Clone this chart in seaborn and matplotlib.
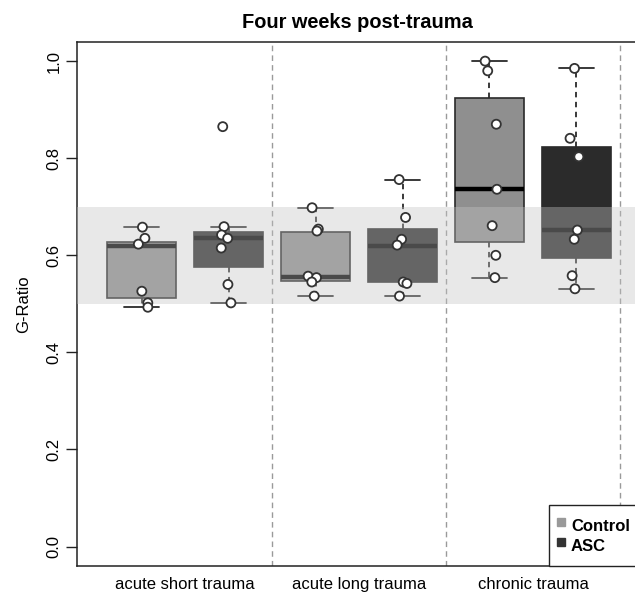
import numpy as np
import pandas as pd
import matplotlib
matplotlib.use("Agg")
import matplotlib.pyplot as plt
from matplotlib.lines import Line2D
import seaborn as sns

# ---------------- data ----------------
categories = ["acute short trauma", "acute long trauma", "chronic trauma"]
groups = ["Control", "ASC"]

# box summaries: lower whisker, Q1, median, Q3, upper whisker
control_box = [
    [0.493, 0.513, 0.620, 0.628, 0.658],
    [0.516, 0.547, 0.556, 0.649, 0.698],
    [0.554, 0.628, 0.736, 0.923, 1.001],
]
asc_box = [
    [0.502, 0.575, 0.635, 0.649, 0.658],
    [0.516, 0.544, 0.620, 0.654, 0.756],
    [0.531, 0.594, 0.652, 0.823, 0.985],
]

# individual animals (points)
control_pts = [
    [0.658, 0.635, 0.623, 0.526, 0.502, 0.493],
    [0.698, 0.654, 0.650, 0.557, 0.554, 0.545, 0.516],
    [1.000, 0.980, 0.870, 0.736, 0.661, 0.600, 0.554],
]
asc_pts = [
    [0.865, 0.659, 0.642, 0.635, 0.615, 0.540, 0.502],
    [0.756, 0.678, 0.633, 0.621, 0.545, 0.542, 0.516],
    [0.985, 0.841, 0.803, 0.652, 0.633, 0.558, 0.531],
]

yticks = [0.0, 0.2, 0.4, 0.6, 0.8, 1.0]
ytick_labels = ["0.0", "0.2", "0.4", "0.6", "0.8", "1.0"]
band_range = (0.5, 0.7)

# ---------------- frames ----------------
def long_frame(ctrl, asc):
    rows = []
    for ci, cat in enumerate(categories):
        for v in ctrl[ci]:
            rows.append((cat, "Control", v))
        for v in asc[ci]:
            rows.append((cat, "ASC", v))
    return pd.DataFrame(rows, columns=["trauma", "group", "g_ratio"])

box_df = long_frame(control_box, asc_box)
pts_df = long_frame(control_pts, asc_pts)

# ---------------- style ----------------
sns.set_theme(style="white")
plt.rcParams["font.family"] = ["Liberation Sans", "DejaVu Sans"]
plt.rcParams["text.color"] = "black"
plt.rcParams["axes.labelcolor"] = "black"
plt.rcParams["xtick.color"] = "black"
plt.rcParams["ytick.color"] = "black"

fig = plt.figure(figsize=(6.35, 5.97), dpi=100)
ax = fig.add_axes([77.3 / 635, 31 / 597, 560 / 635, 524.3 / 597])

box_colors = {"Control": "#8f8f8f", "ASC": "#2b2b2b"}
legend_colors = {"Control": "#999999", "ASC": "#333333"}

sns.boxplot(
    data=box_df, x="trauma", y="g_ratio", hue="group",
    order=categories, hue_order=groups, palette=box_colors,
    saturation=1, width=1.0, gap=0.2, whis=(0, 100), showfliers=False,
    linecolor="#2a2a2a", linewidth=1.2,
    medianprops=dict(color="black", linewidth=3.2),
    whiskerprops=dict(linestyle=(0, (3, 2.5)), linewidth=1.3),
    capprops=dict(linestyle="-", linewidth=1.3),
    legend=False, ax=ax,
)
n_before = len(ax.collections)

np.random.seed(3)
sns.stripplot(
    data=pts_df, x="trauma", y="g_ratio", hue="group",
    order=categories, hue_order=groups,
    palette={"Control": "white", "ASC": "white"},
    dodge=True, jitter=0.09, size=6.5, linewidth=1.3, edgecolor="#333333",
    legend=False, ax=ax, zorder=5,
)
# align dodged points with the (wider-spaced) boxes
for coll in ax.collections[n_before:]:
    off = coll.get_offsets()
    if len(off):
        frac = off[:, 0] - np.round(off[:, 0])
        off[:, 0] = off[:, 0] + np.where(frac < 0, -0.05, 0.05)
        coll.set_offsets(off)
        coll.set_zorder(5)

# grey reference band drawn over the boxes
ax.axhspan(band_range[0], band_range[1], color="#c4c4c4", alpha=0.38, lw=0, zorder=4)

# dashed separators between trauma types
for xv in [0.5, 1.5, 2.5]:
    ax.axvline(xv, color="#9a9a9a", linestyle=(0, (4, 3)), linewidth=1.0, zorder=1)

ax.set_xlim(-0.62, 2.6)
ax.set_ylim(-0.04, 1.04)

ax.set_yticks(yticks)
ax.set_yticklabels(ytick_labels, rotation=90, va="center", fontsize=12)
ax.tick_params(axis="y", left=True, length=8, width=1, color="#222222", pad=3.5)
ax.tick_params(axis="x", bottom=False, length=0, pad=8, labelsize=12)

ax.set_xlabel("")
ax.set_ylabel("G-Ratio", fontsize=12, labelpad=11)
ax.set_title("Four weeks post-trauma", fontsize=14.4, fontweight="bold", pad=10)

for side, sp in ax.spines.items():
    sp.set_visible(True)
    sp.set_color("#222222")
    sp.set_linewidth(1.1)

handles = [
    Line2D([0], [0], marker="s", linestyle="none", markersize=6,
           markerfacecolor=legend_colors[g], markeredgecolor=legend_colors[g], label=g)
    for g in groups
]
leg = ax.legend(
    handles=handles, loc="lower right", bbox_to_anchor=(1.0, 0.0),
    borderaxespad=0, frameon=True, fancybox=False, framealpha=1,
    edgecolor="#222222", prop=dict(weight="bold", size=12),
    handletextpad=0.36, handlelength=0.5, handleheight=2.0,
    borderpad=0.45, labelspacing=-0.33,
)
leg.get_frame().set_linewidth(1.0)
leg.set_zorder(6)

fig.savefig("out.png", dpi=100)
